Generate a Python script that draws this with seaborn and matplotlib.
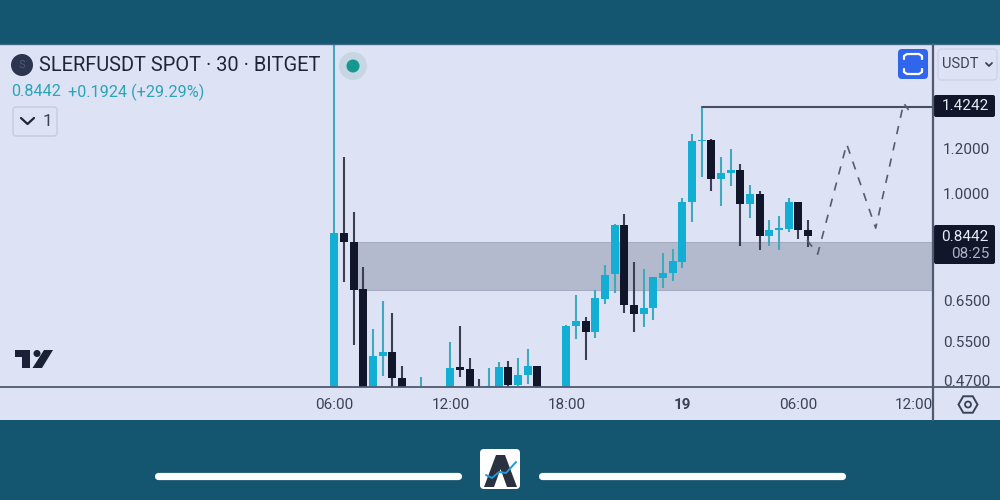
import matplotlib
matplotlib.use("Agg")
import matplotlib.pyplot as plt
import numpy as np
import pandas as pd
import seaborn as sns
from matplotlib.patches import Rectangle, FancyBboxPatch, Circle, RegularPolygon, Polygon
from matplotlib.transforms import Bbox

sns.set_theme(style="white")
plt.rcParams['font.family'] = ['Roboto', 'DejaVu Sans']

# 30-minute candles; bars before 06:00 are off the visible scale
opens = [0.40,0.855,0.824,0.680,0.44,0.518,0.527,0.474,0.44,0.44,0.455,0.45,0.45,0.494,0.492,0.45,0.44,0.45,0.496,0.462,0.481,0.498,0.44,0.44,0.44,0.586,0.599,0.571,0.655,0.722,0.883,0.637,0.614,0.630,0.713,0.725,0.759,0.969,1.241,1.243,1.061,1.089,1.102,0.960,0.999,0.845,0.866,0.868,0.969,0.863]
highs = [1.90,1.163,0.930,0.745,0.579,0.649,0.618,0.498,0.45,0.476,0.45,0.45,0.550,0.586,0.514,0.473,0.494,0.507,0.508,0.514,0.535,0.498,0.45,0.45,0.588,0.664,0.608,0.677,0.750,0.885,0.921,0.758,0.738,0.715,0.788,0.799,0.983,1.273,1.4242,1.249,1.160,1.201,1.128,1.038,1.011,0.900,0.915,0.983,0.969,0.899]
lows = [0.39,0.699,0.543,0.42,0.43,0.479,0.45,0.43,0.42,0.43,0.43,0.43,0.44,0.476,0.44,0.43,0.43,0.44,0.458,0.460,0.463,0.43,0.43,0.43,0.43,0.555,0.510,0.559,0.641,0.669,0.617,0.571,0.584,0.600,0.683,0.702,0.742,0.892,1.070,1.012,0.951,1.032,0.811,0.906,0.797,0.811,0.797,0.858,0.832,0.808]
closes = [0.855,0.822,0.678,0.44,0.518,0.527,0.474,0.44,0.45,0.455,0.44,0.44,0.494,0.491,0.45,0.44,0.46,0.496,0.462,0.481,0.498,0.44,0.44,0.44,0.586,0.599,0.571,0.656,0.721,0.883,0.638,0.614,0.631,0.715,0.726,0.761,0.969,1.241,1.246,1.061,1.089,1.103,0.960,0.999,0.845,0.864,0.870,0.969,0.863,0.8442]

zone_low, zone_high = 0.678, 0.824
target_price = 1.4242
last_price = 0.8442
path_idx = [48.9, 50.0, 53.0, 56.0, 58.9, 59.4]
path_price = [0.830, 0.784, 1.224, 0.871, 1.445, 1.405]
ytick_vals = [0.47, 0.55, 0.65, 1.0, 1.2]
ytick_labels = ["0.4700", "0.5500", "0.6500", "1.0000", "1.2000"]
xtick_idx = [0, 12, 24, 36, 48, 60]
xtick_labels = ["06:00", "12:00", "18:00", "19", "06:00", "12:00"]

BG = "#14556f"; PANEL = "#dde3f5"; LINE = "#4f5a70"; TXT = "#3a4256"; DARK = "#11162b"
UP = "#12aed4"; DOWN = "#11162b"; UPW = "#3fa9bd"; DOWNW = "#3a3f52"; TEAL = "#2ba5b6"

df = pd.DataFrame({"o": opens, "h": highs, "l": lows, "c": closes})
df["i"] = np.arange(len(df))
df["up"] = df.c >= df.o

fig = plt.figure(figsize=(10, 5), dpi=100, facecolor=BG)

back = fig.add_axes([0, 0, 1, 1], zorder=0)
back.set_xlim(0, 1000); back.set_ylim(500, 0); back.axis("off")
back.add_patch(Rectangle((0, 44), 1000, 376, fc=PANEL, ec="none"))

ax = fig.add_axes([0, (500-387)/500, 933/1000, (387-44)/500], zorder=1)
ax.patch.set_alpha(0)
ax.set_yscale("log")
ax.set_xlim(-34.6, 61.93)
ax.set_ylim(0.4578, 1.835)

ax.fill_between([2.45, 61.93], zone_low, zone_high, color="#b3bace", lw=0, zorder=1)
for v in (zone_low, zone_high):
    ax.plot([2.45, 61.93], [v, v], color="#a6adc2", lw=0.8, zorder=1)

u = df[df.up]; d = df[~df.up]
ax.vlines(u.i, u.l, u.h, color=UPW, lw=1.5, zorder=2)
ax.vlines(d.i, d.l, d.h, color=DOWNW, lw=1.5, zorder=2)
min_h = 0.005
ax.bar(u.i, (u.c-u.o).clip(lower=min_h), bottom=u.o, width=0.82, color=UP, lw=0, zorder=3)
ax.bar(d.i, (d.o-d.c).clip(lower=min_h), bottom=d.c, width=0.82, color=DOWN, lw=0, zorder=3)

sns.lineplot(x=[38, 61.93], y=[target_price, target_price], ax=ax, color="#454e63", lw=1.5, zorder=4, estimator=None, sort=False)
sns.lineplot(x=path_idx, y=path_price, ax=ax, color="#555c70", lw=1.2, zorder=4, estimator=None, sort=False, linestyle=(0, (5, 5)))

ax.yaxis.tick_right()
ax.set_yticks(ytick_vals, ytick_labels)
ax.set_yticks([], minor=True)
ax.set_xticks(xtick_idx, xtick_labels)
ax.tick_params(axis="both", length=0, labelsize=11, labelcolor=TXT)
ax.tick_params(axis="y", pad=7)
ax.tick_params(axis="x", pad=8)
for lab in ax.get_xticklabels():
    if lab.get_text() == "19":
        lab.set_fontweight("bold")
    if lab.get_position()[0] == 60:
        lab.set_clip_on(True); lab.set_clip_box(Bbox([[0, 0], [933, 500]]))
for lab in ax.get_yticklabels():
    lab.set_clip_on(True); lab.set_clip_box(Bbox([[934, 500-386], [1000, 500-44]]))
for s in ax.spines.values():
    s.set_visible(False)

top = fig.add_axes([0, 0, 1, 1], zorder=2)
top.patch.set_alpha(0)
top.set_xlim(0, 1000); top.set_ylim(500, 0); top.axis("off")

# frame
top.plot([0, 1000], [387, 387], color=LINE, lw=1.3)
top.plot([933, 933], [44, 420], color=LINE, lw=1.6)
top.plot([0, 1000], [44, 44], color="#3d6a86", lw=1)

# header
top.add_patch(Circle((22, 65), 11, fc="#2b3550", ec="none"))
top.text(22, 65.5, "S", color="#4d5870", fontsize=8, ha="center", va="center")
top.text(39, 65.5, "SLERFUSDT SPOT · 30 · BITGET", color="#20263a", fontsize=14.45, ha="left", va="center")
top.text(11, 92, "0.8442", color=TEAL, fontsize=11.7, ha="left", va="center")
top.text(68, 92, "+0.1924 (+29.29%)", color=TEAL, fontsize=11.7, ha="left", va="center")
top.add_patch(FancyBboxPatch((13, 107), 44, 29, boxstyle="round,pad=0,rounding_size=3", fc=PANEL, ec="#c6ccdc", lw=1))
top.plot([21, 27.5, 34], [118, 124, 118], color="#20263a", lw=1.6)
top.text(47, 121.5, "1", color=TXT, fontsize=12.5, ha="center", va="center")
top.add_patch(Circle((353, 66), 14, fc="#c6d6e3", ec="none"))
top.add_patch(Circle((353, 66), 6.5, fc="#16978f", ec="none"))

# screenshot button
top.add_patch(FancyBboxPatch((898, 49), 30, 30, boxstyle="round,pad=0,rounding_size=4", fc="#2f66ec", ec="none"))
top.plot([904, 904, 907, 919, 922, 922], [59, 56, 54, 54, 56, 59], color="white", lw=1.6)
top.plot([904, 904, 907, 919, 922, 922], [69, 72, 74, 74, 72, 69], color="white", lw=1.6)

# currency selector
top.add_patch(FancyBboxPatch((938, 49), 59, 31, boxstyle="round,pad=0,rounding_size=4", fc=PANEL, ec="#ced4e4", lw=1))
top.text(942, 64.5, "USDT", color=TXT, fontsize=10.5, ha="left", va="center")
top.plot([986, 989, 992], [63, 66, 63], color=TXT, lw=1.3)

# price labels
top.add_patch(FancyBboxPatch((934, 95), 61, 22, boxstyle="round,pad=0,rounding_size=2", fc=DARK, ec="none"))
top.text(989, 106, "1.4242", color="#e8ebf5", fontsize=11, ha="right", va="center")
top.add_patch(FancyBboxPatch((934, 225), 61, 39, boxstyle="round,pad=0,rounding_size=2", fc=DARK, ec="none"))
top.text(989, 237, "0.8442", color="#e8ebf5", fontsize=11, ha="right", va="center")
top.text(989, 254, "08:25", color="#aab2c6", fontsize=11, ha="right", va="center")

# settings icon
top.add_patch(RegularPolygon((968, 404.5), 6, radius=9.5, orientation=np.pi/6, fc="none", ec=TXT, lw=1.4))
top.add_patch(Circle((968, 404.5), 3, fc="none", ec=TXT, lw=1.3))

# TradingView mark
top.add_patch(Polygon([(15, 350), (30, 350), (30, 368), (22, 368), (22, 357), (15, 357)], fc="#1a2036", ec="none"))
top.add_patch(Circle((37, 353.5), 3.5, fc="#1a2036", ec="none"))
top.add_patch(Polygon([(44, 350), (53, 350), (42, 368), (32.5, 368)], fc="#1a2036", ec="none"))

# footer
for x0, x1 in ((158, 458), (542, 842)):
    top.plot([x0, x1], [475.5, 475.5], color="white", lw=5.2, solid_capstyle="round")
top.add_patch(FancyBboxPatch((480, 449), 40, 40, boxstyle="round,pad=0,rounding_size=4", fc="white", ec="none"))
top.add_patch(Polygon([(484, 487), (496, 455), (505, 455), (517, 487), (507, 487), (500.5, 469), (494, 487)], fc="#2a3140", ec="none"))
top.plot([486, 492, 499, 506, 516], [475, 478, 472, 473, 462], color="#1f9ad6", lw=1.4)

fig.savefig("out.png", dpi=100, facecolor=BG)
